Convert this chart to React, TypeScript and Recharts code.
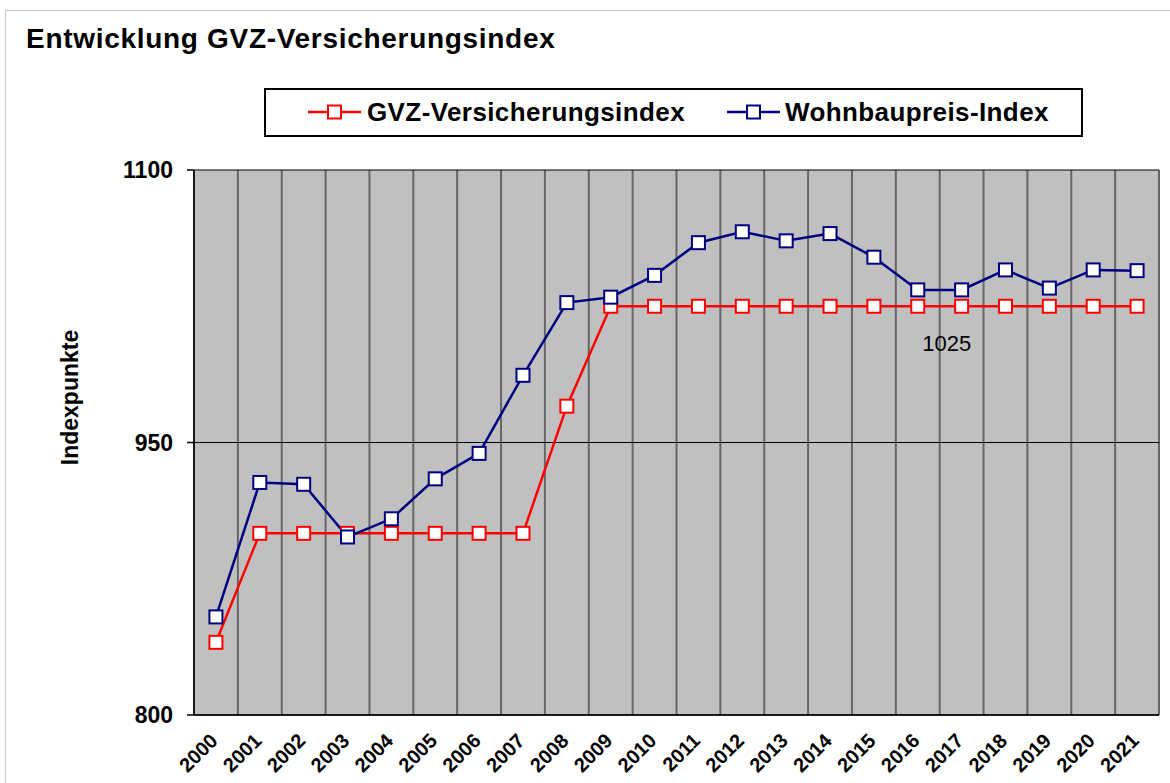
import React from 'react';
import {
  LineChart,
  Line,
  XAxis,
  YAxis,
  CartesianGrid,
  Legend,
  LabelList,
} from 'recharts';

const years = [
  '2000', '2001', '2002', '2003', '2004', '2005', '2006', '2007', '2008', '2009', '2010',
  '2011', '2012', '2013', '2014', '2015', '2016', '2017', '2018', '2019', '2020', '2021',
];

// GVZ-Versicherungsindex
const gvzIndex = [
  840, 900, 900, 900, 900, 900, 900, 900, 970, 1025, 1025,
  1025, 1025, 1025, 1025, 1025, 1025, 1025, 1025, 1025, 1025, 1025,
];

// Wohnbaupreis-Index
const wohnbauIndex = [
  854, 928, 927, 898, 908, 930, 944, 987, 1027, 1030, 1042,
  1060, 1066, 1061, 1065, 1052, 1034, 1034, 1045, 1035, 1045, 1044.6,
];

const yTicks = [800, 950, 1100];
const labelledYear = '2016';

const FONT = '"Liberation Sans", Arial, Helvetica, sans-serif';
const RED = '#FF0000';
const BLUE = '#000080';

const data = years.map((year, i) => ({
  year,
  gvz: gvzIndex[i],
  wohnbau: wohnbauIndex[i],
}));

const squareDot = (color: string) => (props: any) => {
  const { cx, cy, index } = props;
  if (cx == null || cy == null) return <g key={`d-${index}`} />;
  return (
    <rect
      key={`d-${color}-${index}`}
      x={cx - 6.5}
      y={cy - 6.5}
      width={13}
      height={13}
      fill="#fff"
      stroke={color}
      strokeWidth={2}
    />
  );
};

const YearTick = (props: any) => {
  const { x, y, payload } = props;
  return (
    <text
      x={x + 3}
      y={y + 27}
      transform={`rotate(-45, ${x + 3}, ${y + 27})`}
      textAnchor="end"
      fontFamily={FONT}
      fontWeight="bold"
      fontSize={20}
      fill="#000"
    >
      {payload.value}
    </text>
  );
};

const LegendIcon = ({ color }: { color: string }) => (
  <svg width={53} height={16} style={{ display: 'block' }}>
    <line x1={0} y1={8} x2={53} y2={8} stroke={color} strokeWidth={2.5} />
    <rect x={20} y={1.5} width={13} height={13} fill="#fff" stroke={color} strokeWidth={2} />
  </svg>
);

const textStyle: React.CSSProperties = {
  position: 'absolute',
  top: 6,
  lineHeight: '32px',
  whiteSpace: 'nowrap',
  letterSpacing: 0.4,
};

const renderLegend = () => (
  <div
    style={{
      position: 'relative',
      width: 819,
      height: 49,
      border: '2px solid #000',
      boxSizing: 'border-box',
      background: '#fff',
      fontFamily: FONT,
      fontWeight: 'bold',
      fontSize: 26,
      color: '#000',
    }}
  >
    <div style={{ position: 'absolute', left: 42, top: 14 }}>
      <LegendIcon color={RED} />
    </div>
    <div style={{ ...textStyle, left: 101 }}>GVZ-Versicherungsindex</div>
    <div style={{ position: 'absolute', left: 461, top: 14 }}>
      <LegendIcon color={BLUE} />
    </div>
    <div style={{ ...textStyle, left: 519 }}>Wohnbaupreis-Index</div>
  </div>
);

const ValueLabel = (props: any) => {
  const { x, y, value, index } = props;
  if (years[index] !== labelledYear) return null;
  return (
    <text
      x={x + 29}
      y={y + 37}
      textAnchor="middle"
      dominantBaseline="central"
      fontFamily={FONT}
      fontSize={22}
      fill="#000"
    >
      {value}
    </text>
  );
};

const AxisTitle = (props: any) => {
  const { viewBox } = props;
  const cx = viewBox.x + 70;
  const cy = viewBox.y + viewBox.height / 2 - 45;
  return (
    <text
      x={cx}
      y={cy}
      transform={`rotate(-90, ${cx}, ${cy})`}
      textAnchor="middle"
      dominantBaseline="central"
      fontFamily={FONT}
      fontWeight="bold"
      fontSize={23}
      fill="#000"
    >
      Indexpunkte
    </text>
  );
};

export default function App() {
  return (
    <div
      style={{
        position: 'absolute',
        left: 0,
        top: 0,
        width: 1170,
        height: 783,
        overflow: 'hidden',
        background: '#fff',
      }}
    >
      <div
        style={{
          position: 'absolute',
          left: 5,
          top: 10,
          width: 1200,
          height: 820,
          border: '1px solid #c8c8c8',
        }}
      />
      <div
        style={{
          position: 'absolute',
          left: 26,
          top: 25,
          fontFamily: FONT,
          fontWeight: 'bold',
          fontSize: 28,
          lineHeight: 1,
          color: '#000',
          whiteSpace: 'nowrap',
          letterSpacing: 0.7,
        }}
      >
        Entwicklung GVZ-Versicherungsindex
      </div>
      <div style={{ position: 'absolute', left: 0, top: 0 }}>
        <LineChart
          width={1170}
          height={783}
          data={data}
          margin={{ top: 170, right: 11, bottom: 0, left: 0 }}
        >
          <CartesianGrid
            fill="#C0C0C0"
            horizontal={false}
            stroke="#666"
            strokeWidth={2}
            verticalCoordinatesGenerator={({ offset }: any) =>
              Array.from({ length: years.length + 1 }, (_, i) => offset.left + (i * offset.width) / years.length)
            }
          />
          <CartesianGrid vertical={false} stroke="#000" strokeWidth={1} />
          <XAxis
            dataKey="year"
            scale="band"
            interval={0}
            tickLine={false}
            tickSize={0}
            tickMargin={0}
            height={68}
            stroke="#000"
            strokeWidth={1.5}
            tick={<YearTick />}
          />
          <YAxis
            domain={[800, 1100]}
            ticks={yTicks}
            width={194}
            tickSize={7}
            tickMargin={14}
            stroke="#000"
            strokeWidth={1.5}
            tick={{ fill: '#000', fontSize: 23, fontWeight: 'bold', fontFamily: FONT }}
            label={<AxisTitle />}
          />
          <Legend
            content={renderLegend}
            verticalAlign="middle"
            align="center"
            wrapperStyle={{ position: 'absolute', left: 264, top: 88, width: 819, height: 49 }}
          />
          <Line
            dataKey="gvz"
            name="GVZ-Versicherungsindex"
            stroke={RED}
            strokeWidth={2.5}
            dot={squareDot(RED)}
            activeDot={false}
            isAnimationActive={false}
          >
            <LabelList dataKey="gvz" content={<ValueLabel />} />
          </Line>
          <Line
            dataKey="wohnbau"
            name="Wohnbaupreis-Index"
            stroke={BLUE}
            strokeWidth={2.5}
            dot={squareDot(BLUE)}
            activeDot={false}
            isAnimationActive={false}
          />
        </LineChart>
      </div>
    </div>
  );
}
